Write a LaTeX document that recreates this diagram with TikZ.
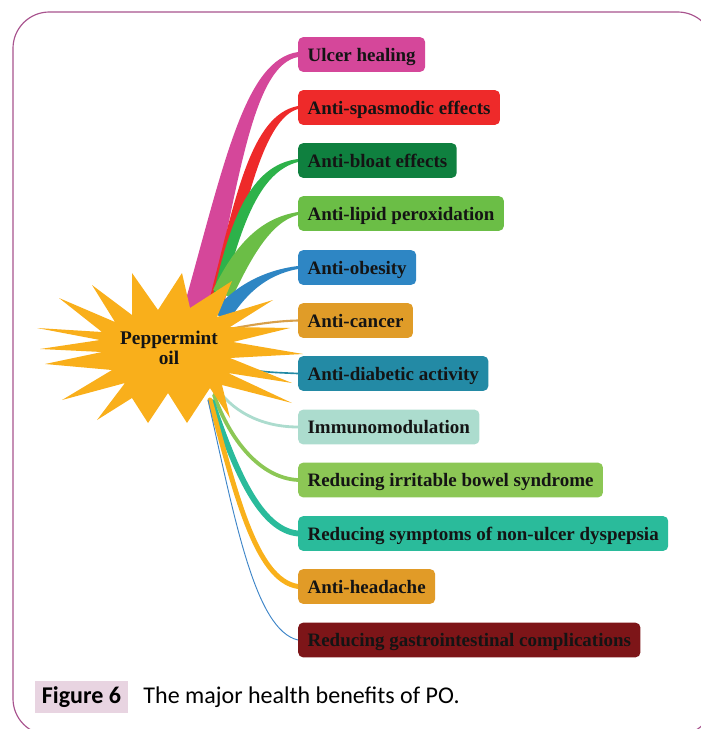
\documentclass[tikz,border=0pt]{standalone}
\usepackage{fontspec}
\setmainfont{Liberation Serif}
\newfontfamily\captionsans{Carlito}
\usetikzlibrary{calc, backgrounds, positioning}

\definecolor{framepink}{HTML}{A8538E}
\definecolor{figtag}{HTML}{E8D4E1}
\definecolor{sunburst}{HTML}{F9AF1B}
\definecolor{ulcerpink}{HTML}{D5479A}
\definecolor{spasmred}{HTML}{EE2A2A}
\definecolor{bloatgreen}{HTML}{0F803F}
\definecolor{bloatline}{HTML}{2DB24A}
\definecolor{lipidgreen}{HTML}{6BBE46}
\definecolor{obesityblue}{HTML}{2E86C4}
\definecolor{canceramber}{HTML}{E09C28}
\definecolor{cancerline}{HTML}{D8A04A}
\definecolor{diabeticteal}{HTML}{238AA5}
\definecolor{immunomint}{HTML}{ACDCCE}
\definecolor{bowelgreen}{HTML}{8CC755}
\definecolor{dyspepteal}{HTML}{2ABB9B}
\definecolor{headamber}{HTML}{E19B27}
\definecolor{headline}{HTML}{F9B11B}
\definecolor{gimaroon}{HTML}{7D1518}
\definecolor{giline}{HTML}{3F86C8}

\begin{document}
\begin{tikzpicture}[x=0.03cm, y=-0.03cm,
  benefit/.style={rounded corners=4pt, anchor=west, minimum height=29.5pt,
                  inner xsep=8pt, text height=12.5pt, text depth=1pt, text=black!92,
                  font=\fontsize{16.2}{19}\selectfont\bfseries},
  hub/.style={align=center, text=black!92,
              font=\fontsize{16.5}{17}\selectfont\bfseries},
  thread/.style={line cap=round}
]
\useasboundingbox (0,0) rectangle (701,729);
\clip (0,0) rectangle (701,729);
% Frame
\draw[framepink, line width=1pt, rounded corners=31pt] (13,12) rectangle (714,735);
% Centre
\node[hub] (po) at (169,348) {Peppermint\\oil};
% Benefits
\node[benefit, fill=ulcerpink]    (ulcer)    at (298,54.5)  {Ulcer healing};
\node[benefit, fill=spasmred]     (spasm)    at (298,107.5) {Anti-spasmodic effects};
\node[benefit, fill=bloatgreen]   (bloat)    at (298,160.5) {Anti-bloat effects};
\node[benefit, fill=lipidgreen]   (lipid)    at (298,213.5) {Anti-lipid peroxidation};
\node[benefit, fill=obesityblue]  (obesity)  at (298,267.5) {Anti-obesity};
\node[benefit, fill=canceramber]  (cancer)   at (298,320.5) {Anti-cancer};
\node[benefit, fill=diabeticteal] (diabetic) at (298,373.5) {Anti-diabetic activity};
\node[benefit, fill=immunomint]   (immuno)   at (298,427)   {Immunomodulation};
\node[benefit, fill=bowelgreen]   (bowel)    at (298,480)   {Reducing irritable bowel syndrome};
\node[benefit, fill=dyspepteal]   (dyspep)   at (298,533.5) {Reducing symptoms of non-ulcer dyspepsia};
\node[benefit, fill=headamber]    (headache) at (298,586.5) {Anti-headache};
\node[benefit, fill=gimaroon]     (gicomp)   at (298,640)   {Reducing gastrointestinal complications};

\begin{scope}[on background layer]
% Tapered ribbons, upper half
\fill[ulcerpink] ($(po)+(14,-38)$) .. controls (225,160) and (245,60) .. ($(ulcer.west)+(0,-2.5)$)
  -- ($(ulcer.west)+(0,2.5)$) .. controls (255,65) and (240,170) .. ($(po)+(43,-43)$) -- cycle;
\fill[spasmred] ($(po)+(39,-43)$) .. controls (235,200) and (250,115) .. ($(spasm.west)+(0,-1.5)$)
  -- ($(spasm.west)+(0,1.5)$) .. controls (265,118) and (245,200) .. ($(po)+(56,-48)$) -- cycle;
\fill[bloatline] ($(po)+(43,-48)$) .. controls (230,220) and (250,165) .. ($(bloat.west)+(0,-1.5)$)
  -- ($(bloat.west)+(0,1.5)$) .. controls (258,172) and (240,230) .. ($(po)+(53,-48)$) -- cycle;
\fill[lipidgreen] ($(po)+(44,-58)$) .. controls (235,245) and (260,218) .. ($(lipid.west)+(0,-1.5)$)
  -- ($(lipid.west)+(0,1.5)$) .. controls (270,222) and (250,260) .. ($(po)+(63,-50)$) -- cycle;
\fill[obesityblue] ($(po)+(44,-36)$) .. controls (235,285) and (265,270) .. ($(obesity.west)+(0,-1.5)$)
  -- ($(obesity.west)+(0,1.5)$) .. controls (265,275) and (245,295) .. ($(po)+(59,-26)$) -- cycle;
% Plain threads, lower half
\draw[thread, cancerline, line width=1.8pt] ($(po)+(55,-18)$) .. controls (250,325) and (275,321) .. (cancer.west);
\draw[thread, diabeticteal, line width=1.4pt] ($(po)+(60,17)$) .. controls (262,372) .. (diabetic.west);
\draw[thread, immunomint, line width=2.4pt] ($(po)+(46,37)$) .. controls (230,410) and (260,427) .. (immuno.west);
\draw[thread, bowelgreen, line width=3.2pt] ($(po)+(45,47)$) .. controls (230,440) and (260,478) .. (bowel.west);
\draw[thread, dyspepteal, line width=5pt] ($(po)+(43,54)$) .. controls (235,470) and (260,530) .. (dyspep.west);
\draw[thread, headline, line width=4.2pt] ($(po)+(41,52)$) .. controls (235,490) and (255,580) .. (headache.west);
\draw[thread, giline, line width=0.8pt] ($(po)+(39,52)$) .. controls (235,520) and (255,630) .. (gicomp.west);
% Sunburst behind the label
\fill[sunburst] (37,328) -- (102,332) -- (59,298) -- (115,322) -- (92,285) -- (132,315)
  -- (132,273) -- (158,310) -- (182,273) -- (190,308) -- (232,281) -- (217,317)
  -- (273,300) -- (230,327) -- (290,328) -- (233,342) -- (303,354) -- (230,358)
  -- (292,383) -- (228,373) -- (292,403) -- (222,385) -- (230,418) -- (210,388)
  -- (187,423) -- (168,393) -- (148,423) -- (132,398) -- (97,420) -- (125,383)
  -- (62,400) -- (112,370) -- (45,364) -- (102,352) -- (40,349) -- (100,340) -- cycle;
\end{scope}

% Caption
\node[fill=figtag, minimum width=79pt, minimum height=28pt, inner sep=0pt,
      font=\captionsans\fontsize{20.5}{24}\selectfont\bfseries] (tag) at (81.5,697) {Figure 6};
\node[right=13pt of tag.base east, anchor=base west, inner sep=0pt,
      font=\captionsans\fontsize{20.5}{24}\selectfont] (figtext) {The major health benefits of PO.};
\end{tikzpicture}
\end{document}
